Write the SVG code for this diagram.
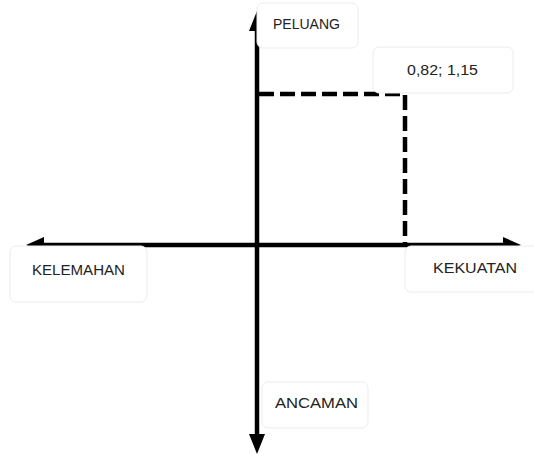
<svg xmlns="http://www.w3.org/2000/svg" width="534" height="455" viewBox="0 0 534 455">
<style>
.box{fill:#fff;stroke:#ececec;stroke-width:1}
.lbl{font-family:"Liberation Sans",Arial,sans-serif;font-size:14px;fill:#222}
.axis{stroke:#000;stroke-width:4.5;fill:none}
.dash{stroke:#000;stroke-width:4.5;fill:none;stroke-dasharray:15 6}
.head{fill:#000}
</style>
<g id="connectors">
<line class="axis" x1="257" y1="26" x2="257" y2="440"/>
<line class="axis" x1="40" y1="245" x2="508" y2="245"/>
<polygon class="head" points="257,11 265,31 249,31"/>
<polygon class="head" points="257,454 265,434 249,434"/>
<polygon class="head" points="26,245 44,237 44,253"/>
<polygon class="head" points="521,245 503,237 503,253"/>
<path class="dash" d="M259,94 H405 V245"/>
</g>
<g id="peluang">
<rect class="box" x="257" y="3" width="101" height="45" rx="6"/>
<text class="lbl" x="273" y="29" textLength="67" lengthAdjust="spacingAndGlyphs">PELUANG</text>
</g>
<g id="titik">
<rect class="box" x="373" y="47" width="140" height="46" rx="6"/>
<text class="lbl" x="407" y="75" textLength="71" lengthAdjust="spacingAndGlyphs">0,82; 1,15</text>
</g>
<g id="kelemahan">
<rect class="box" x="10" y="246" width="137" height="56" rx="6"/>
<text class="lbl" x="32" y="275" textLength="93" lengthAdjust="spacingAndGlyphs">KELEMAHAN</text>
</g>
<g id="kekuatan">
<rect class="box" x="405" y="246" width="140" height="46" rx="6"/>
<text class="lbl" x="433" y="273" textLength="84" lengthAdjust="spacingAndGlyphs">KEKUATAN</text>
</g>
<g id="ancaman">
<rect class="box" x="262" y="382" width="106" height="46" rx="6"/>
<text class="lbl" x="275" y="408" textLength="83" lengthAdjust="spacingAndGlyphs">ANCAMAN</text>
</g>
</svg>
